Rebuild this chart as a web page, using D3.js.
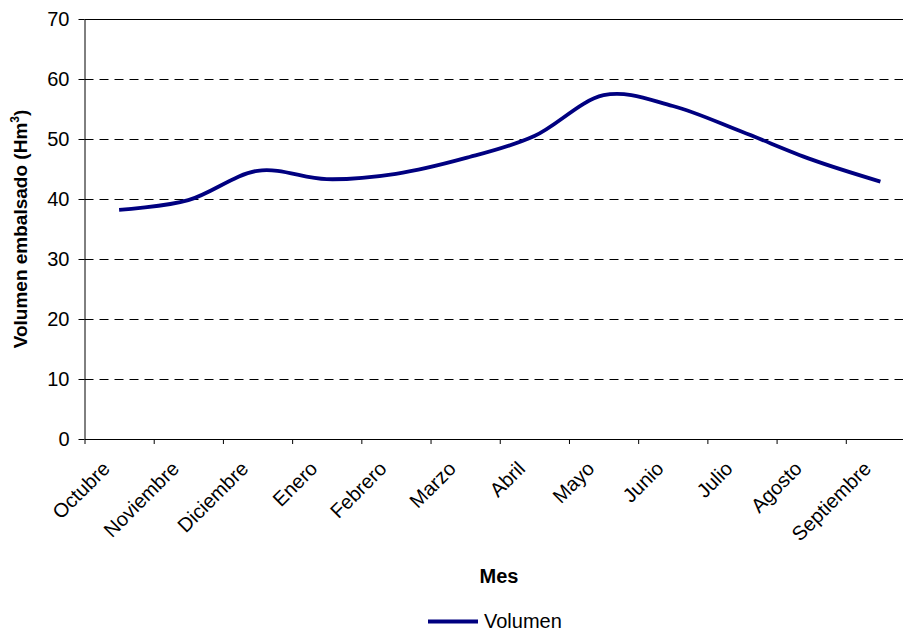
<!DOCTYPE html>
<html>
<head>
<meta charset="utf-8">
<script src="https://cdn.jsdelivr.net/npm/d3@7"></script>
<style>
  html, body { margin: 0; padding: 0; background: #fff; }
  svg { display: block; font-family: "Liberation Sans", Arial, sans-serif; }
</style>
</head>
<body>
<svg id="chart" width="903" height="632"></svg>
<script>
const months = ["Octubre", "Noviembre", "Diciembre", "Enero", "Febrero", "Marzo",
                "Abril", "Mayo", "Junio", "Julio", "Agosto", "Septiembre"];
const volumen = [38.2, 39.8, 44.7, 43.3, 44.2, 46.8, 50.5, 57.3, 55.5, 51.2, 46.6, 42.9];
const yTicks = [0, 10, 20, 30, 40, 50, 60, 70];
const seriesName = "Volumen";
const xTitle = "Mes";

(function () {
const svg = d3.select("#chart");
const pL = 84.5, pR = 915, pT = 19, pB = 439;

const x = d3.scaleBand().domain(months).range([pL, pR]).padding(0);
const y = d3.scaleLinear().domain([0, 70]).range([pB, pT]);
const cx = m => x(m) + x.bandwidth() / 2;

// gridlines
svg.append("g").selectAll("line")
  .data(yTicks.filter(v => v > 0))
  .join("line")
  .attr("x1", pL).attr("x2", pR)
  .attr("y1", d => Math.round(y(d)) + 0.5).attr("y2", d => Math.round(y(d)) + 0.5)
  .attr("stroke", "#000")
  .attr("stroke-width", 1)
  .attr("stroke-dasharray", d => d === 70 ? null : "9,6");

// y axis
const yAxis = svg.append("g")
  .attr("transform", `translate(${pL},0)`)
  .call(d3.axisLeft(y).tickValues(yTicks).tickSize(6).tickPadding(9).tickSizeOuter(0));
yAxis.select(".domain").attr("stroke", "#000");
yAxis.selectAll(".tick line").attr("stroke", "#000");
yAxis.selectAll(".tick text")
  .attr("font-size", "20px").attr("fill", "#000")
  .attr("font-family", "'Liberation Sans', Arial, sans-serif");

// x axis tick marks at band edges
const xi = d3.scaleLinear().domain([0, months.length]).range([pL, pR]);
const xAxis = svg.append("g")
  .attr("transform", `translate(0,${pB})`)
  .call(d3.axisBottom(xi).tickValues(d3.range(months.length + 1)).tickFormat("").tickSize(5).tickSizeOuter(0));
xAxis.select(".domain").attr("stroke", "#000");
xAxis.selectAll(".tick line").attr("stroke", "#000");

// x labels rotated
svg.append("g").selectAll("text")
  .data(months)
  .join("text")
  .attr("transform", d => `translate(${cx(d) - 8},${pB + 31}) rotate(-45)`)
  .attr("text-anchor", "end")
  .attr("font-size", "20px")
  .attr("fill", "#000")
  .text(d => d);

// line
const line = d3.line()
  .x((d, i) => cx(months[i]))
  .y(d => y(d))
  .curve(d3.curveCardinal.tension(0));
svg.append("path")
  .datum(volumen)
  .attr("d", line)
  .attr("fill", "none")
  .attr("stroke", "#000080")
  .attr("stroke-width", 3.8)
  .attr("stroke-linejoin", "round");

// y title
const yt = svg.append("text")
  .attr("transform", `translate(27,${(pT + pB) / 2}) rotate(-90)`)
  .attr("text-anchor", "middle")
  .attr("font-size", "19px")
  .attr("font-weight", "bold")
  .attr("fill", "#000");
yt.append("tspan").text("Volumen embalsado (Hm");
yt.append("tspan").attr("font-size", "12px").attr("dy", "-8").text("3");
yt.append("tspan").attr("dy", "8").text(")");

// x title
svg.append("text")
  .attr("x", 499).attr("y", 583)
  .attr("text-anchor", "middle")
  .attr("font-size", "20px")
  .attr("font-weight", "bold")
  .attr("fill", "#000")
  .text(xTitle);

// legend
svg.append("line")
  .attr("x1", 428).attr("x2", 478)
  .attr("y1", 621.5).attr("y2", 621.5)
  .attr("stroke", "#000080").attr("stroke-width", 3.8);
svg.append("text")
  .attr("x", 484).attr("y", 628)
  .attr("font-size", "20px")
  .attr("fill", "#000")
  .text(seriesName);
})();
</script>
</body>
</html>
